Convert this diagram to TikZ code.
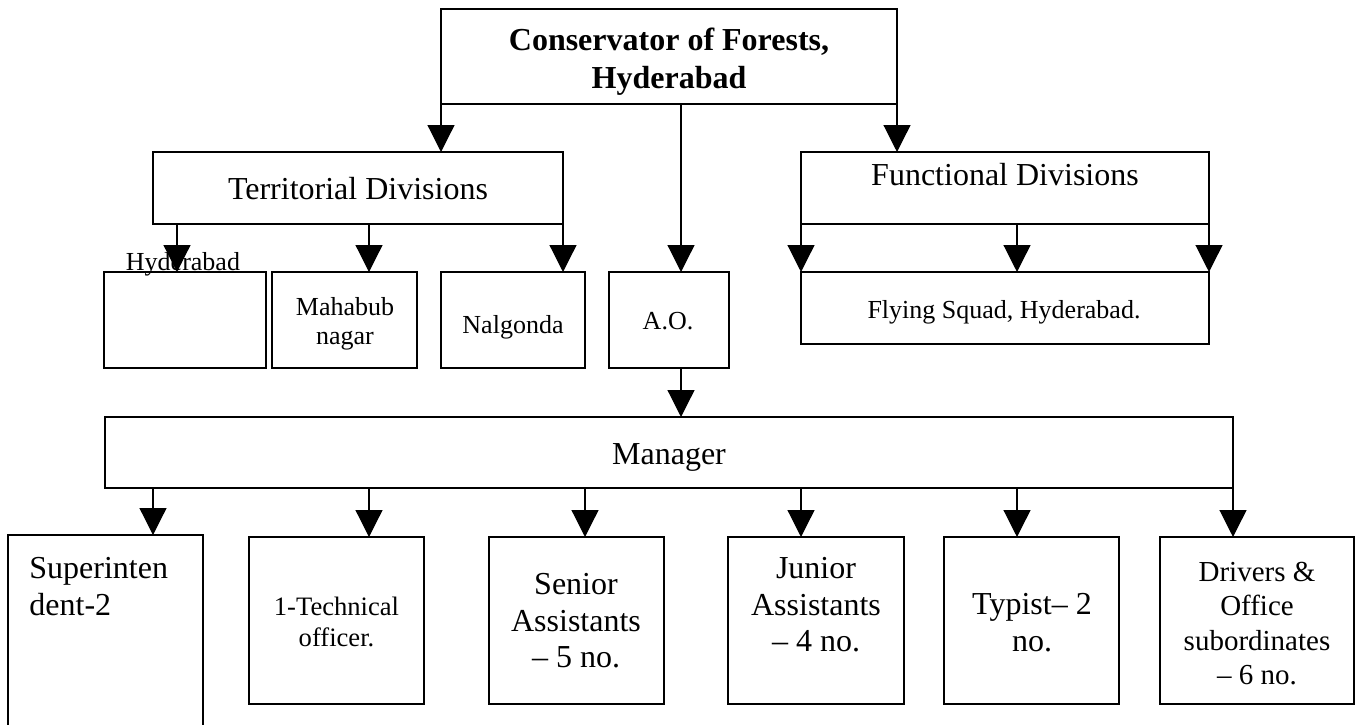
\documentclass[tikz,border=0pt]{standalone}
\usepackage{fontspec}
\setmainfont{Liberation Serif}
\usetikzlibrary{arrows.meta,fit}
\tikzset{
  box/.style={draw, line width=0.75pt, inner sep=0pt, outer sep=0pt},
  conn/.style={line width=0.6pt, -{Triangle[width=13.5pt,length=13.5pt]}},
  lbl/.style={inner sep=0pt, anchor=north, align=center},
  big/.style={font=\fontsize{16}{18.3}\selectfont},
  small/.style={font=\fontsize{13}{14.5}\selectfont},
}
\begin{document}
\begin{tikzpicture}[x=0.5pt,y=-0.5pt]
\path[use as bounding box] (0,0) rectangle (1363,724);

% boxes
\node[box, fit={(441,9)(897,104)}] (cf) {};
\node[box, fit={(153,152)(563,224)}] (terr) {};
\node[box, fit={(801,152)(1209,224)}] (func) {};
\node[box, fit={(104,272)(266,368)}] (hyd) {};
\node[box, fit={(272,272)(417,368)}] (mah) {};
\node[box, fit={(441,272)(585,368)}] (nal) {};
\node[box, fit={(609,272)(729,368)}] (ao) {};
\node[box, fit={(801,272)(1209,344)}] (fly) {};
\node[box, fit={(105,417)(1233,488)}] (mgr) {};
\node[inner sep=0pt, outer sep=0pt, fit={(8,535)(203,730)}] (sup) {};
\draw[line width=0.75pt] (sup.south west) -- (sup.north west) -- (sup.north east) -- (sup.south east);
\node[box, fit={(249,537)(424,704)}] (tech) {};
\node[box, fit={(489,537)(664,704)}] (sen) {};
\node[box, fit={(728,537)(904,704)}] (jun) {};
\node[box, fit={(944,537)(1119,704)}] (typ) {};
\node[box, fit={(1160,537)(1354,704)}] (drv) {};

% texts
\node[lbl, font=\bfseries\fontsize{16}{19}\selectfont] (cft) at (669,28) {Conservator of Forests,\\Hyderabad};
\node[lbl, big] (terrt) at (358,177) {Territorial Divisions};
\node[lbl, big] (funct) at (1005,163) {Functional Divisions};
\node[lbl, small] (hydt) at (183,252) {Hyderabad};
\node[lbl, small] (maht) at (345,297) {Mahabub\\nagar};
\node[lbl, small] (nalt) at (513,315) {Nalgonda};
\node[lbl, small] (aot) at (668,312) {A.O.};
\node[lbl, small] (flyt) at (1004,300) {Flying Squad, Hyderabad.};
\node[lbl, big] (mgrt) at (669,443) {Manager};
\node[inner sep=0pt, anchor=north west, align=left, big] (supt) at (29,557) {Superinten\\dent-2};
\node[lbl, font=\fontsize{13.3}{15.3}\selectfont] (techt) at (336.5,597) {1-Technical\\officer.};
\node[lbl, big] (sent) at (576,573) {Senior\\Assistants\\– 5 no.};
\node[lbl, big] (junt) at (816,557) {Junior\\Assistants\\– 4 no.};
\node[lbl, big] (typt) at (1032,593) {Typist– 2\\no.};
\node[lbl, font=\fontsize{14.5}{17.1}\selectfont] (drvt) at (1257,562) {Drivers \&\\Office\\subordinates\\– 6 no.};

% x positions of connectors
\coordinate (x177) at (177,0);
\coordinate (x369) at (369,0);
\coordinate (x681) at (681,0);
\coordinate (x1017) at (1017,0);
\coordinate (x153) at (153,0);
\coordinate (x585) at (585,0);
\coordinate (x801) at (801,0);

% connectors
\draw[conn] (cf.south west) -- (cf.south west |- terr.north);
\draw[conn] (cf.south east) -- (cf.south east |- func.north);
\draw[conn] (cf.south -| x681) -- (x681 |- ao.north);

\draw[conn] (terr.south -| x177) -- (x177 |- hyd.north);
\draw[conn] (terr.south -| x369) -- (x369 |- mah.north);
\draw[conn] (terr.south east) -- (terr.south east |- nal.north);

\draw[conn] (func.south west) -- (func.south west |- fly.north);
\draw[conn] (func.south -| x1017) -- (x1017 |- fly.north);
\draw[conn] (func.south east) -- (func.south east |- fly.north);

\draw[conn] (ao.south -| x681) -- (x681 |- mgr.north);

\draw[conn] (mgr.south -| x153) -- (x153 |- sup.north);
\draw[conn] (mgr.south -| x369) -- (x369 |- tech.north);
\draw[conn] (mgr.south -| x585) -- (x585 |- sen.north);
\draw[conn] (mgr.south -| x801) -- (x801 |- jun.north);
\draw[conn] (mgr.south -| x1017) -- (x1017 |- typ.north);
\draw[conn] (mgr.south east) -- (mgr.south east |- drv.north);
\end{tikzpicture}
\end{document}
